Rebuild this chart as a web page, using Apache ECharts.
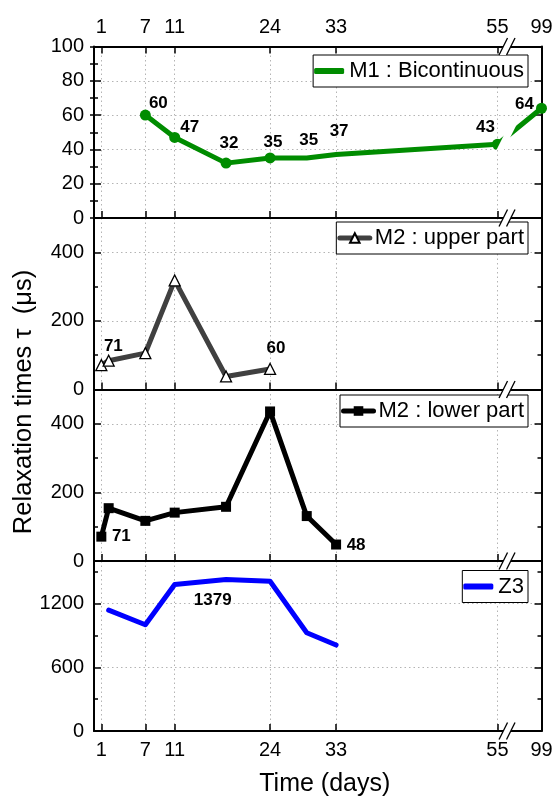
<!DOCTYPE html>
<html><head><meta charset="utf-8">
<script src="https://cdn.jsdelivr.net/npm/echarts@6/dist/echarts.min.js"></script>
<style>html,body{margin:0;padding:0;background:#fff}#c{width:556px;height:798px}</style>
</head><body><div id="c"></div>
<script>
// ---------- data ----------
const tickDays = [1, 7, 11, 24, 33, 55, 99];
const m1Days = [7, 11, 18, 24, 29, 33, 55, 99];
const m1Values = [60, 47, 32, 35, 35, 37, 43, 64];
const m2uDays = [1, 2, 7, 11, 18, 24];
const m2uValues = [71, 84, 106, 318, 38, 60];
const m2lDays = [1, 2, 7, 11, 18, 24, 29, 33];
const m2lValues = [71, 154, 117, 141, 158, 436, 131, 48];
const z3Days = [2, 7, 11, 18, 24, 29, 33];
const z3Values = [1137, 1000, 1379, 1425, 1410, 925, 809];
const panelNames = ['M1 : Bicontinuous', 'M2 : upper part', 'M2 : lower part', 'Z3'];
const yMax = [100, 500, 500, 1600];
const yMajor = [20, 200, 200, 600];
const yMinor = [10, 100, 100, 300];
const yTitle = 'Relaxation times \u03c4  (\u03bcs)';
const xTitle = 'Time (days)';

// ---------- broken axis: 55 | break | 99 ----------
const BREAK_LAST = 55, BREAK_NEXT = 99, NEXT_POS = 61, BREAK_MID = 56.3;
const pos = d => d >= BREAK_NEXT ? NEXT_POS + (d - BREAK_NEXT) : d;
const tickPos = tickDays.map(pos);
const tickText = v => { const i = tickPos.indexOf(v); return i >= 0 ? String(tickDays[i]) : ''; };

const FONT = 'Arial, "Liberation Sans", sans-serif';
const chart = echarts.init(document.getElementById('c'), null, {renderer: 'canvas'});

const GL = 94, GR = 14.5, GT = 46.5, GH = 171.5;
const grids = [0, 1, 2, 3].map(i => ({left: GL, right: GR, top: GT + i * GH, height: GH}));

const dotted = {color: '#b4b4b4', type: [1.5, 3], width: 1};
function xAxisFor(gi, position, showLabel) {
  return {
    type: 'value', gridIndex: gi, min: 0, max: NEXT_POS, position: position,
    axisLine: {show: true, onZero: false, lineStyle: {color: '#000', width: 2}},
    axisTick: {show: true, inside: true, length: 7, customValues: tickPos, lineStyle: {color: '#000', width: 1.5}},
    axisLabel: {show: showLabel, customValues: tickPos, formatter: tickText, fontSize: 20, color: '#000', fontFamily: FONT, margin: 9},
    splitLine: {show: position === 'bottom', lineStyle: dotted},
    name: (gi === 3 && position === 'bottom') ? xTitle : '',
    nameLocation: 'middle', nameGap: 41,
    nameTextStyle: {fontSize: 25, color: '#000', fontFamily: FONT, padding: [0, 0, 0, 14]}
  };
}
const xAxes = [0, 1, 2, 3].map(i => xAxisFor(i, 'bottom', i === 3));
xAxes.push(xAxisFor(0, 'top', true));

const yAxes = [];
[0, 1, 2, 3].forEach(i => {
  ['left', 'right'].forEach(side => {
    yAxes.push({
      type: 'value', gridIndex: i, min: 0, max: yMax[i], interval: yMajor[i], position: side,
      axisLine: {show: true, onZero: false, lineStyle: {color: '#000', width: 2}},
      axisTick: {show: true, inside: true, length: 7, lineStyle: {color: '#000', width: 1.5}},
      axisLabel: {show: side === 'left', formatter: v => (v % yMajor[i] === 0 ? String(v) : ''),
        fontSize: 20, color: '#000', fontFamily: FONT, margin: 10},
      splitLine: {show: side === 'left', lineStyle: dotted}
    });
    yAxes.push({
      type: 'value', gridIndex: i, min: 0, max: yMax[i], interval: yMinor[i], position: side,
      axisLine: {show: false},
      axisTick: {show: true, inside: true, length: 4, lineStyle: {color: '#000', width: 1.5}},
      axisLabel: {show: false}, splitLine: {show: false}
    });
  });
});
const yIdx = i => 4 * i; // left major axis of panel i

const labelBase = {show: true, position: 'inside', fontSize: 17, fontWeight: 'bold', color: '#000', fontFamily: FONT};
// label offsets (pixels, relative to point) and which points carry labels
const m1LabelOffsets = [[13, -12], [15, -10], [3, -20], [3, -16], [2, -18], [3, -23], [-12, -17], [-17, -4]];
const m2uLabelOffsets = {0: [12, -19], 5: [6, -21]};
const m2lLabelOffsets = {0: [20, 0], 7: [20, 1]};
const z3LabelOffsets = {2: [38, 16]};

function build(days, vals, offs) {
  return days.map((d, k) => {
    const item = {value: [pos(d), vals[k]]};
    if (offs && offs[k]) item.label = Object.assign({}, labelBase, {offset: offs[k]});
    return item;
  });
}

const series = [
  {
    name: panelNames[0], type: 'line', xAxisIndex: 0, yAxisIndex: yIdx(0),
    data: build(m1Days, m1Values, m1LabelOffsets),
    color: '#008c00',
    lineStyle: {width: 5, color: '#008c00', cap: 'round', join: 'round'},
    symbol: 'circle',
    symbolSize: v => ([29, 33].indexOf(v[0]) >= 0 ? 0 : 11),
    itemStyle: {color: '#008c00'},
    label: {show: false}, clip: false, z: 3
  },
  {
    name: panelNames[1], type: 'line', xAxisIndex: 1, yAxisIndex: yIdx(1),
    data: build(m2uDays, m2uValues, m2uLabelOffsets),
    color: '#404040',
    lineStyle: {width: 5, color: '#404040', cap: 'round', join: 'round'},
    symbol: 'triangle', symbolSize: 11,
    itemStyle: {color: '#fff', borderColor: '#000', borderWidth: 1.3},
    label: {show: false}, z: 3
  },
  {
    name: panelNames[2], type: 'line', xAxisIndex: 2, yAxisIndex: yIdx(2),
    data: build(m2lDays, m2lValues, m2lLabelOffsets),
    color: '#000',
    lineStyle: {width: 5, color: '#000', cap: 'round', join: 'round'},
    symbol: 'rect', symbolSize: 10,
    itemStyle: {color: '#000'},
    label: {show: false}, z: 3
  },
  {
    name: panelNames[3], type: 'line', xAxisIndex: 3, yAxisIndex: yIdx(3),
    data: build(z3Days, z3Values, z3LabelOffsets),
    color: '#0000ff',
    lineStyle: {width: 5, color: '#0000ff', cap: 'round', join: 'round'},
    symbol: 'circle', symbolSize: 0, showSymbol: true,
    itemStyle: {color: '#0000ff'},
    label: {show: false}, z: 3
  }
];

const legendTops = [55, 222, 395, 570.5];
const legendIcons = ['roundRect', null, null, 'roundRect'];
const legends = panelNames.map((n, i) => ({
  data: [legendIcons[i] ? {name: n, icon: legendIcons[i]} : {name: n}],
  right: 28, top: legendTops[i], orient: 'horizontal',
  borderColor: '#000', borderWidth: 1, padding: [3, 4, 3, 1],
  itemWidth: 30, itemHeight: legendIcons[i] ? 6 : 12, itemGap: 0,
  selectedMode: false, backgroundColor: '#fff',
  lineStyle: {width: 5},
  textStyle: {fontSize: 22, color: '#000', fontFamily: FONT, lineHeight: 26}
}));

chart.setOption({
  animation: false,
  backgroundColor: '#fff',
  grid: grids,
  xAxis: xAxes,
  yAxis: yAxes,
  legend: legends,
  series: series
});

// ---------- graphics: y title, axis break marks, line gap ----------
const gfx = [{
  type: 'text', x: 24, y: 402, rotation: Math.PI / 2, z: 100,
  style: {text: yTitle, fontSize: 25.5, fontFamily: FONT, fill: '#000', textAlign: 'center', textVerticalAlign: 'middle', verticalAlign: 'middle'}
}];
const SX = 4.25, SY = 8.5, HG = 3.75;
function addBreak(cx, y) {
  gfx.push({type: 'polygon', z: 100, shape: {points: [[cx - HG - SX, y + SY], [cx - HG + SX, y - SY], [cx + HG + SX, y - SY], [cx + HG - SX, y + SY]]}, style: {fill: '#fff'}});
  [-HG, HG].forEach(o => gfx.push({type: 'line', z: 101, shape: {x1: cx + o - SX, y1: y + SY, x2: cx + o + SX, y2: y - SY}, style: {stroke: '#000', lineWidth: 1.3}}));
}
[0, 1, 2, 3].forEach(i => {
  const p = chart.convertToPixel({xAxisIndex: i, yAxisIndex: yIdx(i)}, [BREAK_MID, 0]);
  addBreak(p[0], p[1]);
});
const pt = chart.convertToPixel({xAxisIndex: 0, yAxisIndex: yIdx(0)}, [BREAK_MID, yMax[0]]);
addBreak(pt[0], pt[1]);
// gap in the M1 line where it crosses the break
const kA = m1Days.indexOf(BREAK_LAST), kB = m1Days.indexOf(BREAK_NEXT);
const a = chart.convertToPixel({xAxisIndex: 0, yAxisIndex: yIdx(0)}, [pos(m1Days[kA]), m1Values[kA]]);
const b = chart.convertToPixel({xAxisIndex: 0, yAxisIndex: yIdx(0)}, [pos(m1Days[kB]), m1Values[kB]]);
const cxg = pt[0];
const yg = a[1] + (b[1] - a[1]) * (cxg - a[0]) / (b[0] - a[0]);
const K = 1.6;
gfx.push({type: 'polygon', z: 100, shape: {points: [[cxg - HG - SX * K, yg + SY * K], [cxg - HG + SX * K, yg - SY * K], [cxg + HG + SX * K, yg - SY * K], [cxg + HG - SX * K, yg + SY * K]]}, style: {fill: '#fff'}});
chart.setOption({graphic: gfx});
</script>
</body></html>
